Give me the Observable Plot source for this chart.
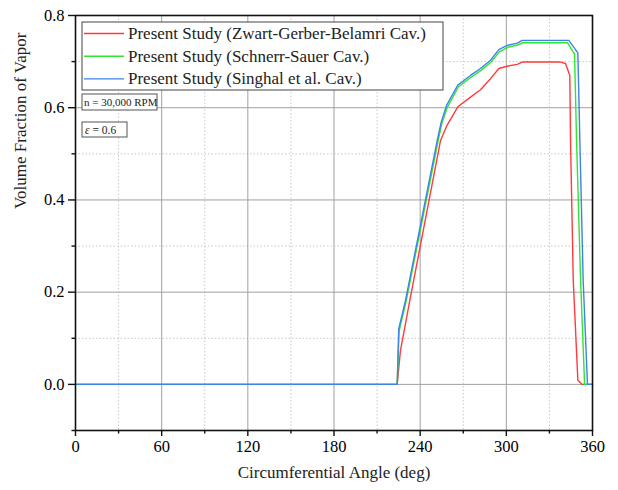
<!DOCTYPE html>
<html>
<head>
<meta charset="utf-8">
<script src="https://cdn.jsdelivr.net/npm/d3@7"></script>
<script src="https://cdn.jsdelivr.net/npm/@observablehq/plot@0.6"></script>
<style>
  html, body { margin: 0; padding: 0; background: #fff; }
  #chart svg { display: block; font-family: "Liberation Serif", "Times New Roman", serif; }
</style>
</head>
<body>
<div id="chart"></div>
<script>
// ---- data ----
const seriesNames = [
  "Present Study (Zwart-Gerber-Belamri Cav.)",
  "Present Study (Schnerr-Sauer Cav.)",
  "Present Study (Singhal et al. Cav.)"
];
const seriesColors = ["#ff3b3b", "#2fe62f", "#3c84e6"];

const zgbAngle = [0, 224, 226.3, 232.8, 254.2, 258.4, 266.2, 275.1, 282.0, 289.0, 294.8, 300.6, 307.6, 311.1, 337.7, 341.2, 344.2, 344.7, 346.6, 349.8, 352.8, 360];
const zgbValue = [0, 0, 0.074, 0.182, 0.529, 0.560, 0.602, 0.623, 0.639, 0.663, 0.685, 0.690, 0.694, 0.699, 0.699, 0.696, 0.670, 0.529, 0.226, 0.009, 0, 0];

const ssAngle = [0, 224, 225.3, 230.2, 252.3, 255.0, 258.8, 266.6, 275.5, 282.4, 289.4, 295.2, 301.0, 308.0, 311.5, 342.5, 347.5, 348.9, 351.7, 354.5, 360];
const ssValue = [0, 0, 0.115, 0.180, 0.525, 0.565, 0.600, 0.645, 0.666, 0.681, 0.699, 0.721, 0.731, 0.736, 0.741, 0.741, 0.716, 0.529, 0.226, 0, 0];

const singAngle = [0, 224, 225.1, 229.8, 251.9, 254.7, 258.4, 266.2, 275.1, 282.0, 289.0, 294.8, 300.6, 307.6, 311.1, 343.5, 349.8, 351.2, 353.5, 356.5, 360];
const singValue = [0, 0, 0.121, 0.182, 0.529, 0.569, 0.605, 0.649, 0.670, 0.685, 0.703, 0.726, 0.735, 0.740, 0.746, 0.746, 0.719, 0.529, 0.226, 0, 0];

const xMajor = [0, 60, 120, 180, 240, 300, 360];
const xMinor = [30, 90, 150, 210, 270, 330];
const yMajor = [0.0, 0.2, 0.4, 0.6, 0.8];
const yMinor = [-0.1, 0.1, 0.3, 0.5, 0.7];
const xTitle = "Circumferential Angle (deg)";
const yTitle = "Volume Fraction of Vapor";
const speedNote = "n = 30,000 RPM";

// ---- build table ----
const rows = [];
[[zgbAngle, zgbValue], [ssAngle, ssValue], [singAngle, singValue]].forEach(([a, v], i) => {
  a.forEach((ang, j) => rows.push({angle: ang, value: v[j], series: seriesNames[i]}));
});

const font = '"Liberation Serif", "Times New Roman", serif';

const plot = Plot.plot({
  width: 618,
  height: 490,
  marginLeft: 75,
  marginRight: 26,
  marginTop: 15,
  marginBottom: 60,
  style: {fontFamily: font, background: "#fff"},
  x: {domain: [0, 360]},
  y: {domain: [-0.1, 0.8]},
  color: {domain: seriesNames, range: seriesColors},
  marks: [
    Plot.gridX(xMinor, {stroke: "#c8c8c8", strokeOpacity: 1, strokeDasharray: "1.5,2"}),
    Plot.gridY([0.1, 0.3, 0.5, 0.7], {stroke: "#c8c8c8", strokeOpacity: 1, strokeDasharray: "1.5,2"}),
    Plot.gridX([60, 120, 180, 240, 300], {stroke: "#a0a0a0", strokeOpacity: 1, strokeWidth: 1}),
    Plot.gridY([0, 0.2, 0.4, 0.6], {stroke: "#a0a0a0", strokeOpacity: 1, strokeWidth: 1}),
    Plot.line(rows, {x: "angle", y: "value", z: "series", stroke: "series", strokeWidth: 1.4}),
    Plot.frame({stroke: "#111", strokeWidth: 1.6}),
    Plot.axisX(xMajor, {tickSize: 6, tickPadding: 4, fontSize: 16.5, tickFormat: d => String(d), label: null, stroke: "#111", strokeWidth: 1.4}),
    Plot.axisX(xMinor, {tickSize: 3.5, tickFormat: () => "", label: null, stroke: "#111", strokeWidth: 1.4}),
    Plot.axisY(yMajor, {tickSize: 7, tickPadding: 4, fontSize: 16.5, tickFormat: d => d.toFixed(1), label: null, stroke: "#111", strokeWidth: 1.4}),
    Plot.axisY(yMinor, {tickSize: 3.5, tickFormat: () => "", label: null, stroke: "#111", strokeWidth: 1.4}),
    Plot.text([xTitle], {frameAnchor: "bottom", dy: 47, fontSize: 17, fill: "#222"}),
    Plot.text([yTitle], {frameAnchor: "left", rotate: -90, dx: -55, dy: -14, fontSize: 17, fill: "#222"})
  ]
});

document.getElementById("chart").appendChild(plot);

// ---- legend & annotation boxes (layout overlays) ----
const svg = d3.select(plot);
const g = svg.append("g").attr("font-family", font).attr("text-anchor", "start");

const leg = g.append("g");
leg.append("rect").attr("x", 82).attr("y", 22).attr("width", 361).attr("height", 68)
  .attr("fill", "#fff").attr("stroke", "#444").attr("stroke-width", 1);
seriesNames.forEach((name, i) => {
  const cy = 33.5 + i * 22.7;
  leg.append("line").attr("x1", 84).attr("x2", 124).attr("y1", cy).attr("y2", cy)
    .attr("stroke", seriesColors[i]).attr("stroke-width", 1.4);
  leg.append("text").attr("x", 128).attr("y", cy + 5.5).attr("font-size", 17)
    .attr("text-anchor", "start").attr("fill", "#222").text(name);
});

const nb = g.append("g");
nb.append("rect").attr("x", 82).attr("y", 94).attr("width", 75).attr("height", 16)
  .attr("fill", "#fff").attr("stroke", "#555").attr("stroke-width", 1);
nb.append("text").attr("x", 84).attr("y", 106).attr("font-size", 11)
  .attr("text-anchor", "start").attr("fill", "#222").text(speedNote);

const eb = g.append("g");
eb.append("rect").attr("x", 82).attr("y", 122).attr("width", 45).attr("height", 15)
  .attr("fill", "#fff").attr("stroke", "#555").attr("stroke-width", 1);
const et = eb.append("text").attr("x", 85).attr("y", 133.5).attr("font-size", 11.5)
  .attr("text-anchor", "start").attr("fill", "#222");
et.append("tspan").attr("font-style", "italic").text("ε");
et.append("tspan").text(" = 0.6");
</script>
</body>
</html>
